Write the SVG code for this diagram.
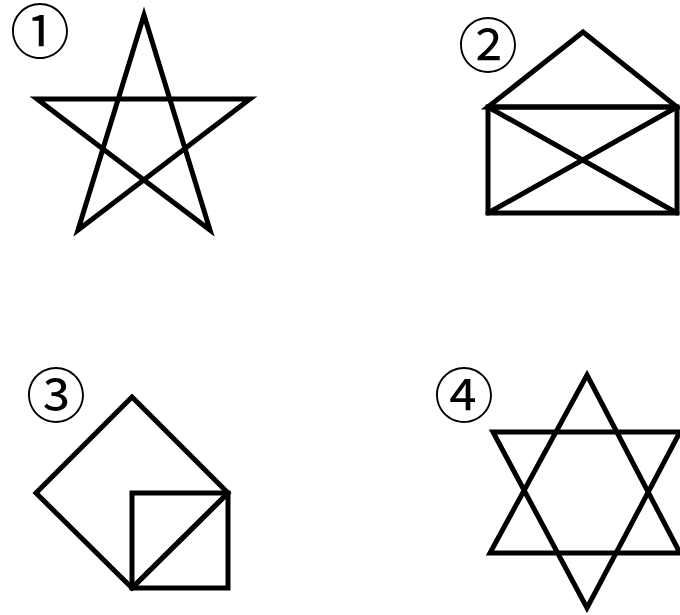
<svg xmlns="http://www.w3.org/2000/svg" width="680" height="615" viewBox="0 0 680 615">
<style>
.s{fill:none;stroke:#000;stroke-width:5;stroke-linejoin:miter;stroke-linecap:round}
.l{font-family:"Noto Sans CJK JP","DejaVu Sans",sans-serif;font-size:60px;fill:#000;text-anchor:middle}
</style>
<rect width="680" height="615" fill="#fff"/>
<g id="fig1">
<text class="l" x="40" y="54">①</text>
<polygon class="s" points="144,15 210,230 37,99 250,99 78,230"/>
</g>
<g id="fig2">
<text class="l" x="488" y="68">②</text>
<polygon class="s" points="488,107 583,32 677,107"/>
<rect class="s" x="488" y="107" width="189" height="106"/>
<line class="s" x1="488" y1="107" x2="677" y2="213"/>
<line class="s" x1="677" y1="107" x2="488" y2="213"/>
</g>
<g id="fig3">
<text class="l" x="56" y="418">③</text>
<polygon class="s" points="132,397 228,493 132,588 36,493"/>
<rect class="s" x="132" y="493" width="96" height="95"/>
<line class="s" x1="132" y1="588" x2="228" y2="493"/>
</g>
<g id="fig4">
<text class="l" x="464" y="418">④</text>
<polygon class="s" points="587,375 680,553 490,553"/>
<polygon class="s" points="493,432 680,432 587,608"/>
</g>
</svg>
